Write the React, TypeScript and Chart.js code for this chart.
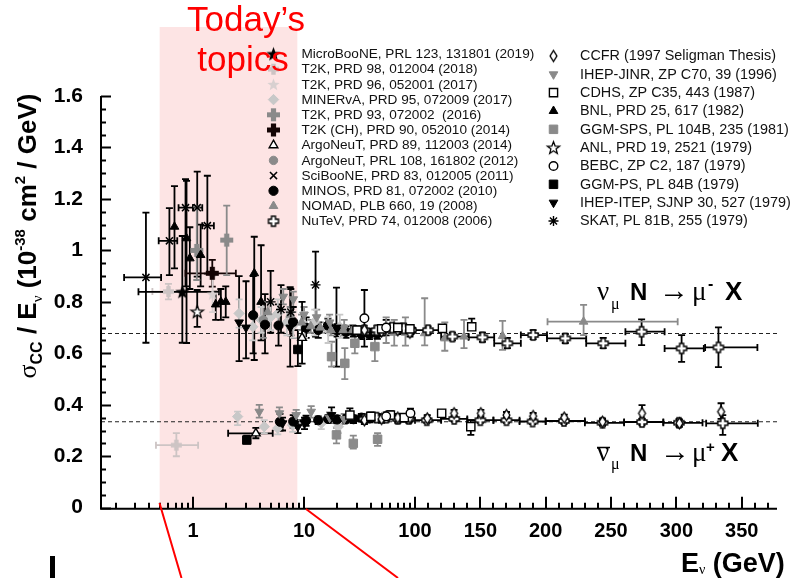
import React, { useEffect, useRef } from 'react';
import { Chart, registerables, LinearScale } from 'chart.js';
import { drawPoint } from 'chart.js/helpers';

// ================= axis values =================
const X_MIN = 0.148;
const X_BREAK = 100;
const X_MAX = 377;
const Y_MIN = 0;
const Y_MAX = 1.6;
const X_MAJOR = [1, 10, 100, 150, 200, 250, 300, 350];
const X_LOG_MULT = [2, 3, 4, 5, 6, 7, 8, 9];
const X_LOG_DECADES = [0.1, 1, 10];
const X_LIN_MINOR_STEP = 10;
const Y_MAJOR = [0, 0.2, 0.4, 0.6, 0.8, 1, 1.2, 1.4, 1.6];
const Y_MINOR_STEP = 0.05;
const REF_NU = 0.677;
const REF_NUBAR = 0.334;
const TOPICS_RANGE = [0.5, 8.7];

// ================= data =================
// each row: [E (GeV), sigma/E, low, high, E_low?, E_high?]
type Row = number[];
const MICROBOONE_NU: Row[] = [[0.8, 0.839, 0.641, 1.056, 0.322, 1.71]];
const T2K18_NU: Row[] = [[0.6, 0.84, 0.81, 0.87, 0.43, 0.83]];
const T2K18_NUBAR: Row[] = [[0.707, 0.243, 0.2, 0.29, 0.463, 1.11]];
const T2K17_NU: Row[] = [[1.5, 0.83, 0.76, 0.9]];
const MINERVA_NU: Row[] = [
  [2.6, 0.755, 0.7, 0.81], [3.45, 0.703, 0.65, 0.76], [4.1, 0.73, 0.68, 0.78], [5.0, 0.74, 0.69, 0.79],
  [5.8, 0.755, 0.7, 0.81], [7.0, 0.72, 0.67, 0.77], [8.0, 0.71, 0.66, 0.76], [10.1, 0.71, 0.66, 0.76],
  [12.5, 0.723, 0.67, 0.77], [16.5, 0.69, 0.64, 0.74], [21, 0.703, 0.66, 0.75],
];
const MINERVA_NUBAR: Row[] = [
  [2.52, 0.354, 0.321, 0.373], [4.38, 0.315, 0.29, 0.34], [5.8, 0.309, 0.285, 0.335],
  [7.9, 0.321, 0.295, 0.345], [14.3, 0.328, 0.305, 0.35], [20.4, 0.315, 0.29, 0.34],
];
const T2K16_NU: Row[] = [[1.08, 1.0, 0.885, 1.17], [2.01, 1.04, 0.904, 1.174]];
const T2K14_NU: Row[] = [[1.49, 0.911, 0.859, 0.963, 0.855, 2.43]];
const ARGONEUT14_NU: Row[] = [[9.6, 0.66, 0.56, 0.8]];
const ARGONEUT14_NUBAR: Row[] = [[3.68, 0.289, 0.27, 0.31, 2.07, 5.22]];
const ARGONEUT12_NU: Row[] = [[4.3, 0.73, 0.66, 0.8]];
const SCIBOONE_NU: Row[] = [
  [0.376, 0.895, 0.641, 1.147, 0.239, 0.515], [0.612, 1.037, 0.904, 1.164, 0.49, 0.72],
  [0.855, 1.166, 0.86, 1.277, 0.74, 1.0], [1.09, 1.166, 0.898, 1.306, 1.0, 1.21],
  [1.345, 1.096, 0.91, 1.29, 1.21, 1.54],
];
const MINOS_NU: Row[] = [
  [3.48, 0.748, 0.6, 0.9], [4.45, 0.711, 0.6, 0.83], [5.89, 0.708, 0.63, 0.79], [7.97, 0.722, 0.66, 0.78],
  [10.45, 0.699, 0.66, 0.74], [13.43, 0.691, 0.66, 0.72], [16.42, 0.708, 0.68, 0.735],
  [19.87, 0.689, 0.665, 0.713], [23.88, 0.683, 0.66, 0.705], [27.89, 0.686, 0.665, 0.707],
  [32.81, 0.675, 0.655, 0.695], [38.87, 0.675, 0.655, 0.695], [45.77, 0.676, 0.656, 0.696],
];
const MINOS_NUBAR: Row[] = [
  [6.07, 0.334, 0.3, 0.365], [7.99, 0.335, 0.31, 0.36], [10.43, 0.338, 0.318, 0.358],
  [13.42, 0.34, 0.325, 0.355], [16.46, 0.345, 0.33, 0.36], [19.87, 0.343, 0.328, 0.358],
  [23.9, 0.345, 0.33, 0.36], [27.92, 0.344, 0.329, 0.359], [32.85, 0.35, 0.335, 0.365],
  [38.9, 0.347, 0.332, 0.362], [45.8, 0.35, 0.335, 0.365],
];
const NOMAD_NU: Row[] = [
  [4.7, 0.76, 0.72, 0.8], [7.5, 0.75, 0.72, 0.78], [9.5, 0.72, 0.69, 0.75], [11.5, 0.705, 0.68, 0.73],
  [14, 0.7, 0.68, 0.72], [17.5, 0.69, 0.67, 0.71], [22.5, 0.69, 0.67, 0.71], [27.5, 0.69, 0.67, 0.71],
  [35, 0.685, 0.665, 0.705], [45, 0.685, 0.665, 0.705], [55, 0.69, 0.64, 0.74], [65, 0.68, 0.63, 0.73],
  [82, 0.68, 0.63, 0.74], [107.4, 0.678, 0.631, 0.814], [122.8, 0.658, 0.61, 0.72],
  [137.5, 0.665, 0.62, 0.73], [167, 0.667, 0.613, 0.726], [229, 0.723, 0.671, 0.788, 201.4, 301],
];
const NUTEV_NU: Row[] = [
  [35, 0.69, 0.675, 0.705], [45, 0.69, 0.675, 0.705], [52, 0.69, 0.675, 0.705], [62, 0.7, 0.685, 0.715],
  [79, 0.697, 0.68, 0.715], [92, 0.69, 0.675, 0.705], [110, 0.69, 0.675, 0.705, 100, 120],
  [128.6, 0.665, 0.65, 0.68, 120, 141], [151.6, 0.662, 0.645, 0.68, 141, 160.6],
  [170.7, 0.639, 0.62, 0.66, 160.6, 181], [190.4, 0.671, 0.655, 0.69, 181, 201],
  [215, 0.658, 0.64, 0.675, 201, 231], [244, 0.639, 0.62, 0.66, 231, 261],
  [273.4, 0.684, 0.632, 0.732, 261, 291], [304, 0.619, 0.567, 0.671, 291, 321],
  [332.2, 0.623, 0.546, 0.701, 322, 362],
];
const NUTEV_NUBAR: Row[] = [
  [35, 0.345, 0.33, 0.36], [45, 0.35, 0.335, 0.365], [55, 0.35, 0.335, 0.365], [70, 0.345, 0.33, 0.36],
  [88, 0.345, 0.33, 0.36], [109, 0.34, 0.33, 0.35, 100, 120], [130, 0.345, 0.335, 0.355, 120, 140],
  [150, 0.34, 0.33, 0.35, 140, 160], [170, 0.34, 0.33, 0.35, 160, 180], [190, 0.335, 0.325, 0.345, 180, 200],
  [214, 0.337, 0.325, 0.35, 200, 230], [243.5, 0.33, 0.318, 0.342, 230, 260],
  [273.7, 0.333, 0.32, 0.346, 260, 290], [302, 0.33, 0.316, 0.344, 290, 320],
  [335.5, 0.328, 0.283, 0.36, 322.8, 362.3],
];
const CCFR_NU: Row[] = [[35, 0.69, 0.675, 0.705], [50, 0.685, 0.67, 0.7], [70, 0.69, 0.675, 0.705], [90, 0.68, 0.665, 0.695]];
const CCFR_NUBAR: Row[] = [
  [35, 0.34, 0.325, 0.355], [50, 0.345, 0.33, 0.36], [70, 0.35, 0.335, 0.365], [90, 0.35, 0.335, 0.365],
  [109.4, 0.347, 0.335, 0.36], [129.9, 0.367, 0.355, 0.38], [150.4, 0.367, 0.355, 0.38],
  [170, 0.36, 0.348, 0.372], [190.4, 0.356, 0.344, 0.368], [214.2, 0.35, 0.338, 0.362],
  [243.5, 0.334, 0.322, 0.346], [273.7, 0.367, 0.345, 0.399], [302.3, 0.328, 0.314, 0.342],
  [334.2, 0.373, 0.345, 0.406],
];
const IHEPJINR_NU: Row[] = [
  [6.5, 0.82, 0.79, 0.85], [8, 0.81, 0.78, 0.84], [10, 0.75, 0.72, 0.78], [13, 0.74, 0.71, 0.77],
  [17, 0.72, 0.69, 0.75], [23, 0.7, 0.67, 0.73],
];
const IHEPJINR_NUBAR: Row[] = [
  [3.95, 0.373, 0.35, 0.4], [6.0, 0.367, 0.345, 0.39], [8.5, 0.36, 0.34, 0.38], [11.6, 0.373, 0.35, 0.395],
  [17, 0.35, 0.33, 0.37], [23, 0.345, 0.325, 0.365],
];
const CDHS_NU: Row[] = [
  [30, 0.69, 0.675, 0.705], [50, 0.695, 0.68, 0.71], [70, 0.7, 0.685, 0.715], [90, 0.695, 0.68, 0.71],
  [121, 0.697, 0.685, 0.71], [143.4, 0.703, 0.69, 0.735],
];
const CDHS_NUBAR: Row[] = [
  [25.9, 0.36, 0.335, 0.386], [40, 0.355, 0.34, 0.37], [60, 0.36, 0.345, 0.375], [80, 0.35, 0.335, 0.365],
  [120.4, 0.367, 0.355, 0.38], [142.7, 0.315, 0.283, 0.34],
];
const BNL_NU: Row[] = [
  [0.68, 1.092, 0.93, 1.25], [0.873, 1.047, 0.64, 1.27], [0.935, 0.969, 0.85, 1.09], [1.17, 0.982, 0.86, 1.1],
  [1.6, 0.79, 0.73, 0.84], [1.78, 0.8, 0.73, 0.85], [1.97, 0.8, 0.74, 0.86], [3.56, 0.911, 0.574, 1.053],
  [4.1, 0.8, 0.65, 1.02],
];
const GGMSPS_NU: Row[] = [[17.7, 0.587, 0.548, 0.645], [23.3, 0.561, 0.5, 0.62], [28.7, 0.639, 0.6, 0.68], [43.5, 0.626, 0.57, 0.66]];
const GGMSPS_NUBAR: Row[] = [[19.6, 0.283, 0.25, 0.31], [27.8, 0.25, 0.23, 0.28], [46, 0.266, 0.24, 0.29]];
const ANL_NU: Row[] = [[1.09, 0.762, 0.703, 0.846]];
const BEBC_NU: Row[] = [[35, 0.736, 0.626, 0.846], [55, 0.7, 0.67, 0.73]];
const BEBC_NUBAR: Row[] = [[55, 0.355, 0.34, 0.37], [91, 0.367, 0.35, 0.385]];
const GGMPS_NU: Row[] = [[8.8, 0.615, 0.55, 0.69]];
const GGMPS_NUBAR: Row[] = [[3.05, 0.263, 0.25, 0.28]];
const IHEPITEP_NU: Row[] = [[2.6, 0.72, 0.57, 0.9], [3.0, 0.7, 0.58, 0.88], [7.5, 0.7, 0.548, 0.857], [19.6, 0.7, 0.548, 0.855]];
const IHEPITEP_NUBAR: Row[] = [[6.4, 0.328, 0.3, 0.35], [8.8, 0.315, 0.29, 0.34], [10.1, 0.328, 0.305, 0.35], [17.7, 0.36, 0.33, 0.39]];
const SKAT_NU: Row[] = [[5.0, 0.8, 0.68, 0.92], [6.2, 0.77, 0.68, 0.865], [7.6, 0.76, 0.67, 0.85], [12.7, 0.866, 0.665, 0.995]];

// ================= styles =================
const BLACK = '#000000';
const DARK = '#140404';
const GRAY = '#8a8a8a';
const LIGHT = '#c8c8c8';
const LIGHT2 = '#cdc4c4';
const LIGHT3 = '#d8d0d0';

type Exp = { label: string; rows: Row[][]; marker: string; color: string; size: number };
const LEFT: Exp[] = [
  { label: 'MicroBooNE, PRL 123, 131801 (2019)', rows: [MICROBOONE_NU], marker: 'star', color: BLACK, size: 7.5 },
  { label: 'T2K, PRD 98, 012004 (2018)', rows: [T2K18_NU, T2K18_NUBAR], marker: 'plus', color: LIGHT2, size: 5.5 },
  { label: 'T2K, PRD 96, 052001 (2017)', rows: [T2K17_NU], marker: 'star', color: LIGHT3, size: 6.5 },
  { label: 'MINERvA, PRD 95, 072009 (2017)', rows: [MINERVA_NU, MINERVA_NUBAR], marker: 'diamond', color: LIGHT, size: 5.2 },
  { label: 'T2K, PRD 93, 072002  (2016)', rows: [T2K16_NU], marker: 'plus', color: GRAY, size: 6.5 },
  { label: 'T2K (CH), PRD 90, 052010 (2014)', rows: [T2K14_NU], marker: 'plus', color: DARK, size: 6.5 },
  { label: 'ArgoNeuT, PRD 89, 112003 (2014)', rows: [ARGONEUT14_NU, ARGONEUT14_NUBAR], marker: 'triangleHollow', color: BLACK, size: 5 },
  { label: 'ArgoNeuT, PRL 108, 161802 (2012)', rows: [ARGONEUT12_NU], marker: 'circle', color: GRAY, size: 4.2 },
  { label: 'SciBooNE, PRD 83, 012005 (2011)', rows: [SCIBOONE_NU], marker: 'x', color: BLACK, size: 5 },
  { label: 'MINOS, PRD 81, 072002 (2010)', rows: [MINOS_NU, MINOS_NUBAR], marker: 'circle', color: BLACK, size: 4.6 },
  { label: 'NOMAD, PLB 660, 19 (2008)', rows: [NOMAD_NU], marker: 'triangle', color: GRAY, size: 5 },
  { label: 'NuTeV, PRD 74, 012008 (2006)', rows: [NUTEV_NU, NUTEV_NUBAR], marker: 'plusHollow', color: BLACK, size: 5 },
];
const RIGHT: Exp[] = [
  { label: 'CCFR (1997 Seligman Thesis)', rows: [CCFR_NU, CCFR_NUBAR], marker: 'diamondHollow', color: BLACK, size: 5.5 },
  { label: 'IHEP-JINR, ZP C70, 39 (1996)', rows: [IHEPJINR_NU, IHEPJINR_NUBAR], marker: 'triangleDown', color: GRAY, size: 5 },
  { label: 'CDHS, ZP C35, 443 (1987)', rows: [CDHS_NU, CDHS_NUBAR], marker: 'rectHollow', color: BLACK, size: 5.8 },
  { label: 'BNL, PRD 25, 617 (1982)', rows: [BNL_NU], marker: 'triangle', color: BLACK, size: 5 },
  { label: 'GGM-SPS, PL 104B, 235 (1981)', rows: [GGMSPS_NU, GGMSPS_NUBAR], marker: 'rect', color: GRAY, size: 6 },
  { label: 'ANL, PRD 19, 2521 (1979)', rows: [ANL_NU], marker: 'starHollow', color: BLACK, size: 6.5 },
  { label: 'BEBC, ZP C2, 187 (1979)', rows: [BEBC_NU, BEBC_NUBAR], marker: 'circleHollow', color: BLACK, size: 4.3 },
  { label: 'GGM-PS, PL 84B (1979)', rows: [GGMPS_NU, GGMPS_NUBAR], marker: 'rect', color: BLACK, size: 6 },
  { label: 'IHEP-ITEP, SJNP 30, 527 (1979)', rows: [IHEPITEP_NU, IHEPITEP_NUBAR], marker: 'triangleDown', color: BLACK, size: 5 },
  { label: 'SKAT, PL 81B, 255 (1979)', rows: [SKAT_NU], marker: 'asterisk', color: BLACK, size: 5 },
];

// ================= marker images =================
function makeCanvas(s: number) {
  const c = document.createElement('canvas');
  c.width = s; c.height = s;
  return c;
}
function starImage(R: number, fill: string, stroke: string | null) {
  const s = Math.ceil(2 * R + 4);
  const c = makeCanvas(s);
  const g = c.getContext('2d')!;
  const cx = s / 2, cy = s / 2 + 0.5, r = R * 0.42;
  g.beginPath();
  for (let i = 0; i < 10; i++) {
    const rad = i % 2 === 0 ? R : r;
    const a = -Math.PI / 2 + (i * Math.PI) / 5;
    g.lineTo(cx + rad * Math.cos(a), cy + rad * Math.sin(a));
  }
  g.closePath();
  g.fillStyle = fill; g.fill();
  if (stroke) { g.strokeStyle = stroke; g.lineWidth = 1.3; g.stroke(); }
  return c;
}
function plusImage(a: number, fill: string, stroke: string | null) {
  const w = a * 0.4;
  const s = Math.ceil(2 * a + 4);
  const c = makeCanvas(s);
  const g = c.getContext('2d')!;
  const o = s / 2;
  const pts = [[-w, -a], [w, -a], [w, -w], [a, -w], [a, w], [w, w], [w, a], [-w, a], [-w, w], [-a, w], [-a, -w], [-w, -w]];
  g.beginPath();
  pts.forEach(([x, y]) => g.lineTo(o + x, o + y));
  g.closePath();
  g.fillStyle = fill; g.fill();
  if (stroke) { g.strokeStyle = stroke; g.lineWidth = 1.4; g.stroke(); }
  return c;
}
function diamondImage(h: number, stroke: string) {
  const w = h * 0.62;
  const s = Math.ceil(2 * h + 4);
  const c = makeCanvas(s);
  const g = c.getContext('2d')!;
  const o = s / 2;
  g.beginPath();
  g.moveTo(o, o - h); g.lineTo(o + w, o); g.lineTo(o, o + h); g.lineTo(o - w, o); g.closePath();
  g.fillStyle = '#fff'; g.fill();
  g.strokeStyle = stroke; g.lineWidth = 1.4; g.stroke();
  return c;
}

type PS = { pointStyle: any; radius: number; rotation: number; bg: string; border: string; bw: number; bar: string };
function markerStyle(e: Exp): PS {
  const base = { radius: e.size, rotation: 0, bg: e.color, border: e.color, bw: 1, bar: e.color };
  switch (e.marker) {
    case 'star': return { ...base, pointStyle: starImage(e.size, e.color, null) };
    case 'starHollow': return { ...base, pointStyle: starImage(e.size, '#fff', BLACK), bar: BLACK };
    case 'plus': return { ...base, pointStyle: plusImage(e.size, e.color, null) };
    case 'plusHollow': return { ...base, pointStyle: plusImage(e.size, '#fff', BLACK), bar: BLACK };
    case 'diamond': return { ...base, pointStyle: 'rectRot' };
    case 'diamondHollow': return { ...base, pointStyle: diamondImage(e.size, BLACK), bar: BLACK };
    case 'triangle': return { ...base, pointStyle: 'triangle' };
    case 'triangleDown': return { ...base, pointStyle: 'triangle', rotation: 180 };
    case 'triangleHollow': return { ...base, pointStyle: 'triangle', bg: '#fff', border: BLACK, bw: 1.4 };
    case 'circle': return { ...base, pointStyle: 'circle' };
    case 'circleHollow': return { ...base, pointStyle: 'circle', bg: '#fff', border: BLACK, bw: 1.4 };
    case 'rect': return { ...base, pointStyle: 'rect' };
    case 'rectHollow': return { ...base, pointStyle: 'rect', bg: '#fff', border: BLACK, bw: 1.4 };
    case 'x': return { ...base, pointStyle: 'crossRot', bw: 1.5 };
    case 'asterisk': return { ...base, pointStyle: 'star', bw: 1.4 };
    default: return { ...base, pointStyle: 'circle' };
  }
}

// ================= custom log/linear x scale =================
const LOG_FRAC = 314 / 676;
function buildXTicks(): number[] {
  const t: number[] = [];
  for (const d of X_LOG_DECADES) for (const m of X_LOG_MULT) {
    const v = +(d * m).toPrecision(3);
    if (v >= X_MIN && v < X_BREAK) t.push(v);
  }
  for (let v = X_BREAK + X_LIN_MINOR_STEP; v < X_MAX; v += X_LIN_MINOR_STEP) t.push(v);
  X_MAJOR.forEach((v) => t.push(v));
  return Array.from(new Set(t)).sort((a, b) => a - b);
}
class LogLinScale extends (LinearScale as any) {
  static id = 'loglin';
  static defaults = {};
  determineDataLimits() { this.min = X_MIN; this.max = X_MAX; }
  buildTicks() { return buildXTicks().map((v) => ({ value: v, major: X_MAJOR.includes(v) })); }
  getPixelForValue(value: number) {
    const lmin = Math.log10(X_MIN), lbr = Math.log10(X_BREAK);
    const f = value <= X_BREAK
      ? ((Math.log10(value) - lmin) / (lbr - lmin)) * LOG_FRAC
      : LOG_FRAC + ((value - X_BREAK) / (X_MAX - X_BREAK)) * (1 - LOG_FRAC);
    return this.getPixelForDecimal(f);
  }
  getValueForPixel(pixel: number) {
    const f = this.getDecimalForPixel(pixel);
    const lmin = Math.log10(X_MIN), lbr = Math.log10(X_BREAK);
    if (f <= LOG_FRAC) return Math.pow(10, lmin + (f / LOG_FRAC) * (lbr - lmin));
    return X_BREAK + ((f - LOG_FRAC) / (1 - LOG_FRAC)) * (X_MAX - X_BREAK);
  }
}
Chart.register(...registerables, LogLinScale as any);

const isYMajor = (v: number) => Y_MAJOR.some((m) => Math.abs(m - v) < 1e-6);

// ================= text helpers =================
type Part = { t: string; f: string; dy?: number };
function partsWidth(ctx: CanvasRenderingContext2D, parts: Part[]) {
  let w = 0;
  for (const p of parts) { ctx.font = p.f; w += ctx.measureText(p.t).width; }
  return w;
}
function drawParts(ctx: CanvasRenderingContext2D, parts: Part[], x: number, y: number) {
  let cx = x;
  for (const p of parts) {
    ctx.font = p.f;
    ctx.fillText(p.t, cx, y + (p.dy || 0));
    cx += ctx.measureText(p.t).width;
  }
}
type APart = { t: string; f: string; x: number; y: number };

const SANS = '"Liberation Sans", Arial, sans-serif';
const SERIF = '"Liberation Serif", "Times New Roman", serif';

function drawLabel(ctx: CanvasRenderingContext2D, items: APart[]) {
  for (const p of items) { ctx.font = p.f; ctx.fillText(p.t, p.x, p.y); }
}

// ================= plugin =================
const decorPlugin = {
  id: 'decor',
  beforeDatasetsDraw(chart: any) {
    const { ctx, chartArea } = chart;
    const xs = chart.scales.x, ys = chart.scales.y;
    ctx.save();
    ctx.fillStyle = '#fde4e4';
    const x1 = xs.getPixelForValue(TOPICS_RANGE[0]);
    const x2 = xs.getPixelForValue(TOPICS_RANGE[1]);
    ctx.fillRect(x1, 27, x2 - x1, chartArea.bottom - 27);
    ctx.strokeStyle = '#222';
    ctx.lineWidth = 1.1;
    ctx.setLineDash([4, 3]);
    [REF_NU, REF_NUBAR].forEach((v) => {
      const py = ys.getPixelForValue(v);
      ctx.beginPath(); ctx.moveTo(chartArea.left, py); ctx.lineTo(chartArea.right, py); ctx.stroke();
    });
    ctx.setLineDash([]);
    ctx.lineWidth = 1.8;
    for (const ds of chart.data.datasets) {
      ctx.strokeStyle = ds.errColor;
      for (const r of ds.errRows as Row[]) {
        const px = xs.getPixelForValue(r[0]);
        const py = ys.getPixelForValue(r[1]);
        ctx.beginPath();
        if (r.length >= 4) {
          const a = ys.getPixelForValue(r[2]), b = ys.getPixelForValue(r[3]);
          ctx.moveTo(px, a); ctx.lineTo(px, b);
          ctx.moveTo(px - 3.5, a); ctx.lineTo(px + 3.5, a);
          ctx.moveTo(px - 3.5, b); ctx.lineTo(px + 3.5, b);
        }
        if (r.length >= 6) {
          const a = xs.getPixelForValue(r[4]), b = xs.getPixelForValue(r[5]);
          ctx.moveTo(a, py); ctx.lineTo(b, py);
          ctx.moveTo(a, py - 3.5); ctx.lineTo(a, py + 3.5);
          ctx.moveTo(b, py - 3.5); ctx.lineTo(b, py + 3.5);
        }
        ctx.stroke();
      }
    }
    ctx.restore();
  },
  afterDraw(chart: any) {
    const { ctx, chartArea } = chart;
    const xs = chart.scales.x, ys = chart.scales.y;
    const { left, right, top, bottom } = chartArea;
    ctx.save();
    ctx.strokeStyle = '#000';
    ctx.lineWidth = 2;
    ctx.beginPath();
    ctx.moveTo(left, top); ctx.lineTo(left, bottom + 1); ctx.lineTo(right, bottom + 1);
    ctx.stroke();
    ctx.beginPath();
    for (const t of ys.ticks) {
      const py = Math.round(ys.getPixelForValue(t.value)) + 0.5;
      const len = isYMajor(t.value) ? 10 : 5;
      ctx.moveTo(left, py); ctx.lineTo(left + len, py);
    }
    for (const t of xs.ticks) {
      const px = Math.round(xs.getPixelForValue(t.value));
      const len = X_MAJOR.includes(t.value) ? 12 : 6;
      ctx.moveTo(px, bottom + 1); ctx.lineTo(px, bottom + 1 - len);
    }
    ctx.stroke();

    // legend
    const cols = [
      { list: LEFT, mx: 273.5, tx: 301.5, y0: 54, dy: 15.2, font: `13.6px ${SANS}` },
      { list: RIGHT, mx: 553.5, tx: 580, y0: 56, dy: 18.33, font: `14.4px ${SANS}` },
    ];
    ctx.textBaseline = 'middle';
    ctx.textAlign = 'left';
    for (const col of cols) {
      col.list.forEach((e, i) => {
        const y = col.y0 + i * col.dy;
        const st = markerStyle(e);
        ctx.fillStyle = st.bg; ctx.strokeStyle = st.border; ctx.lineWidth = st.bw;
        drawPoint(ctx, { pointStyle: st.pointStyle, rotation: st.rotation, radius: st.radius, borderWidth: st.bw }, col.mx, y);
        ctx.fillStyle = '#111';
        ctx.font = col.font;
        ctx.fillText(e.label, col.tx, y + 0.5);
      });
    }

    // y title (rotated)
    ctx.fillStyle = '#000';
    ctx.textBaseline = 'alphabetic';
    const yParts: Part[] = [
      { t: 'σ', f: `26px ${SERIF}` },
      { t: 'CC', f: `bold 16px ${SANS}`, dy: 6 },
      { t: ' / E', f: `bold 26px ${SANS}` },
      { t: 'ν', f: `15px ${SERIF}`, dy: 6 },
      { t: ' (10', f: `bold 26px ${SANS}` },
      { t: '-38', f: `bold 15px ${SANS}`, dy: -11 },
      { t: ' cm', f: `bold 26px ${SANS}` },
      { t: '2', f: `bold 15px ${SANS}`, dy: -11 },
      { t: ' / GeV)', f: `bold 26px ${SANS}` },
    ];
    const W = partsWidth(ctx, yParts);
    ctx.save();
    ctx.translate(36, 236);
    ctx.rotate(-Math.PI / 2);
    drawParts(ctx, yParts, -W / 2, 0);
    ctx.restore();

    // x title
    drawParts(ctx, [
      { t: 'E', f: `bold 27px ${SANS}` },
      { t: 'ν', f: `14px ${SERIF}`, dy: 2 },
      { t: ' (GeV)', f: `bold 27px ${SANS}` },
    ], 681, 571.5);

    // process labels
    drawLabel(ctx, [
      { t: 'ν', f: `27px ${SERIF}`, x: 597, y: 300 },
      { t: 'μ', f: `16px ${SERIF}`, x: 611, y: 309 },
      { t: 'N', f: `bold 24px ${SANS}`, x: 630, y: 300 },
      { t: '→', f: `30px ${SERIF}`, x: 659, y: 300 },
      { t: 'μ', f: `27px ${SERIF}`, x: 692, y: 300 },
      { t: '-', f: `bold 16px ${SANS}`, x: 708, y: 289 },
      { t: 'X', f: `bold 26px ${SANS}`, x: 725, y: 300 },
      { t: 'ν', f: `27px ${SERIF}`, x: 597, y: 460.5 },
      { t: 'μ', f: `16px ${SERIF}`, x: 611, y: 469 },
      { t: 'N', f: `bold 24px ${SANS}`, x: 630, y: 460.5 },
      { t: '→', f: `30px ${SERIF}`, x: 660, y: 460.5 },
      { t: 'μ', f: `27px ${SERIF}`, x: 692, y: 460.5 },
      { t: '+', f: `bold 15px ${SANS}`, x: 706, y: 452 },
      { t: 'X', f: `bold 26px ${SANS}`, x: 721, y: 460.5 },
    ]);
    ctx.lineWidth = 1.5;
    ctx.strokeStyle = '#000';
    ctx.beginPath(); ctx.moveTo(597, 447.5); ctx.lineTo(610, 447.5); ctx.stroke();

    // highlight text + lines
    ctx.fillStyle = '#ff0000';
    ctx.textAlign = 'center';
    ctx.font = `35px ${SANS}`;
    ctx.fillText('Today’s', 246, 31);
    ctx.fillText('topics', 243, 71);
    ctx.strokeStyle = '#ff0000';
    ctx.lineWidth = 2;
    ctx.beginPath();
    ctx.moveTo(159.5, 503); ctx.lineTo(181.5, 578);
    ctx.moveTo(306, 509); ctx.lineTo(398, 578);
    ctx.stroke();

    ctx.fillStyle = '#000';
    ctx.fillRect(50, 556, 5, 22);
    ctx.restore();
  },
};

export default function App() {
  const ref = useRef<HTMLCanvasElement>(null);
  useEffect(() => {
    const order = [...RIGHT].reverse().concat([...LEFT].reverse());
    const datasets = order.map((e) => {
      const st = markerStyle(e);
      const rows = ([] as Row[]).concat(...e.rows);
      return {
        label: e.label,
        data: rows.map((r) => ({ x: r[0], y: r[1] })),
        pointStyle: st.pointStyle,
        pointRadius: st.radius,
        pointRotation: st.rotation,
        pointBackgroundColor: st.bg,
        pointBorderColor: st.border,
        pointBorderWidth: st.bw,
        showLine: false,
        errRows: rows,
        errColor: st.bar,
      };
    });
    const chart = new Chart(ref.current!, {
      type: 'scatter',
      data: { datasets } as any,
      options: {
        responsive: false,
        maintainAspectRatio: false,
        animation: false,
        events: [],
        layout: { padding: { top: 96, right: 20, left: 0, bottom: 0 } },
        plugins: { legend: { display: false }, tooltip: { enabled: false } },
        scales: {
          x: {
            type: 'loglin' as any,
            min: X_MIN,
            max: X_MAX,
            grid: { display: false },
            border: { display: false },
            ticks: {
              autoSkip: false,
              maxRotation: 0,
              minRotation: 0,
              padding: 4,
              color: '#000',
              font: { family: 'Liberation Sans', size: 20, weight: 'bold' },
              callback: (v: any) => (X_MAJOR.includes(v) ? String(v) : ''),
            },
            afterFit: (s: any) => { s.height = 70.3; },
          },
          y: {
            type: 'linear',
            min: Y_MIN,
            max: Y_MAX,
            grid: { display: false },
            border: { display: false },
            afterBuildTicks: (s: any) => {
              const n = Math.round((Y_MAX - Y_MIN) / Y_MINOR_STEP);
              const t = [];
              for (let i = 0; i <= n; i++) t.push({ value: Math.round((Y_MIN + i * Y_MINOR_STEP) * 100) / 100 });
              s.ticks = t;
            },
            ticks: {
              autoSkip: false,
              padding: 10,
              color: '#000',
              font: { family: 'Liberation Sans', size: 21, weight: 'bold' },
              callback: (v: any) => (isYMajor(v) ? String(v) : ''),
            },
            afterFit: (s: any) => { s.width = 101; },
          },
        },
      } as any,
      plugins: [decorPlugin],
    });
    return () => chart.destroy();
  }, []);
  return (
    <div style={{ position: 'absolute', left: 0, top: 0, width: 797, height: 578, background: '#fff' }}>
      <canvas ref={ref} width={797} height={578} style={{ display: 'block', width: 797, height: 578 }} />
    </div>
  );
}
